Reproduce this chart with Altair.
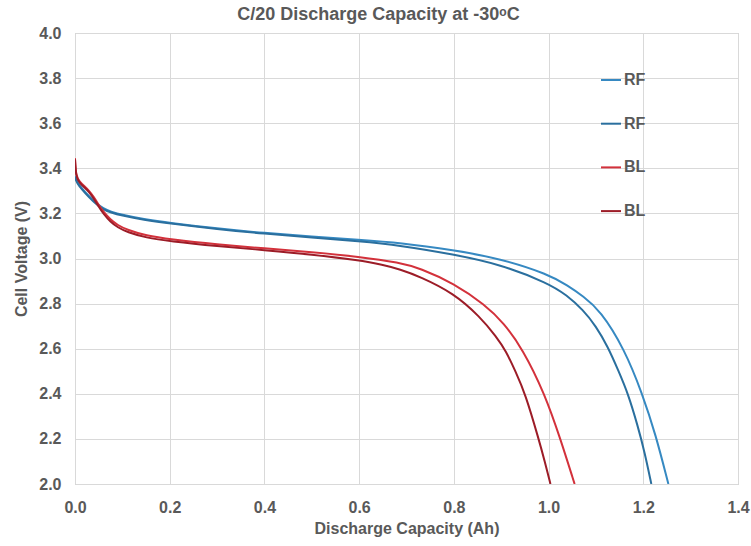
import altair as alt
import pandas as pd

# Series data (Discharge Capacity in Ah, Cell Voltage in V)
rf_a_cap = [0, 0.004, 0.015, 0.03, 0.045, 0.06, 0.075, 0.1, 0.144, 0.2, 0.3, 0.4, 0.5, 0.6, 0.686, 0.8, 0.897, 1.0, 1.04, 1.073, 1.109, 1.16, 1.198, 1.226, 1.253]
rf_a_v   = [3.365, 3.34, 3.31, 3.275, 3.245, 3.222, 3.208, 3.193, 3.175, 3.158, 3.133, 3.113, 3.097, 3.083, 3.07, 3.037, 3.0, 2.93, 2.88, 2.833, 2.77, 2.60, 2.40, 2.22, 2.0]

rf_b_cap = [0, 0.004, 0.015, 0.03, 0.045, 0.06, 0.075, 0.1, 0.144, 0.2, 0.3, 0.4, 0.5, 0.6, 0.686, 0.8, 0.897, 1.0, 1.038, 1.073, 1.1, 1.125, 1.148, 1.168, 1.188, 1.203, 1.217]
rf_b_v   = [3.36, 3.335, 3.305, 3.27, 3.24, 3.218, 3.204, 3.19, 3.172, 3.155, 3.13, 3.11, 3.093, 3.077, 3.058, 3.018, 2.975, 2.89, 2.838, 2.772, 2.70, 2.61, 2.5, 2.4, 2.26, 2.14, 2.0]

bl_a_cap = [0, 0.002, 0.01, 0.02, 0.03, 0.04, 0.05, 0.06, 0.075, 0.09, 0.11, 0.15, 0.2, 0.3, 0.4, 0.5, 0.6, 0.686, 0.728, 0.8, 0.866, 0.905, 0.945, 0.992, 1.025, 1.055]
bl_a_v   = [3.445, 3.365, 3.34, 3.32, 3.30, 3.272, 3.238, 3.207, 3.172, 3.148, 3.127, 3.101, 3.085, 3.062, 3.045, 3.028, 3.008, 2.982, 2.957, 2.89, 2.794, 2.715, 2.6, 2.4, 2.2, 2.0]

bl_b_cap = [0, 0.002, 0.01, 0.02, 0.03, 0.04, 0.05, 0.06, 0.075, 0.09, 0.11, 0.15, 0.2, 0.3, 0.4, 0.5, 0.6, 0.65, 0.686, 0.728, 0.8, 0.855, 0.89, 0.91, 0.93, 0.951, 0.979, 0.992, 1.004]
bl_b_v   = [3.44, 3.36, 3.335, 3.315, 3.295, 3.265, 3.23, 3.198, 3.162, 3.138, 3.117, 3.092, 3.077, 3.055, 3.037, 3.018, 2.992, 2.972, 2.952, 2.92, 2.846, 2.742, 2.653, 2.59, 2.5, 2.4, 2.2, 2.1, 2.0]

series_ids = ["RF_A", "RF_B", "BL_A", "BL_B"]
series_colors = ["#3689c2", "#2a6f9e", "#d3313b", "#9c1c27"]

frames = []
for sid, caps, vs in [("RF_A", rf_a_cap, rf_a_v), ("RF_B", rf_b_cap, rf_b_v),
                      ("BL_A", bl_a_cap, bl_a_v), ("BL_B", bl_b_cap, bl_b_v)]:
    frames.append(pd.DataFrame({"series": sid, "cap": caps, "volt": vs, "order": range(len(caps))}))
df = pd.concat(frames, ignore_index=True)

TXT = "#595959"
FONT = "Liberation Sans"

chart = alt.Chart(df).mark_line(strokeWidth=2, interpolate="basis", clip=True).encode(
    x=alt.X("cap:Q", scale=alt.Scale(domain=[0, 1.4], nice=False),
            axis=alt.Axis(title="Discharge Capacity (Ah)", values=[0, 0.2, 0.4, 0.6, 0.8, 1.0, 1.2, 1.4],
                          format=".1f", tickSize=0, labelPadding=15, titlePadding=5, labelFlush=False,
                          domain=False, grid=True, gridColor="#d9d9d9")),
    y=alt.Y("volt:Q", scale=alt.Scale(domain=[2.0, 4.0], nice=False),
            axis=alt.Axis(title="Cell Voltage (V)", values=[2.0, 2.2, 2.4, 2.6, 2.8, 3.0, 3.2, 3.4, 3.6, 3.8, 4.0],
                          format=".1f", tickSize=0, labelPadding=14, titlePadding=9, labelFlush=False,
                          domain=False, grid=True, gridColor="#d9d9d9")),
    color=alt.Color("series:N", scale=alt.Scale(domain=series_ids, range=series_colors),
                    legend=alt.Legend(title=None, orient="none", legendX=525, legendY=36,
                                      symbolType="stroke", symbolSize=400, symbolStrokeWidth=2,
                                      labelExpr="slice(datum.label, 0, 2)",
                                      labelFontSize=16, labelFont=FONT, labelFontWeight="bold",
                                      labelColor=TXT, rowPadding=24.7, labelOffset=2)),
    order="order:Q",
).properties(
    width=663, height=451,
    title=alt.Title("C/20 Discharge Capacity at -30ᵒC", fontSize=18, font=FONT, fontWeight="bold",
                    color=TXT, anchor="middle", offset=1, dx=-28),
    autosize=alt.AutoSizeParams(type="none"),
    padding={"left": 75, "top": 33, "right": 13, "bottom": 62},
).configure_view(
    stroke="#bfbfbf", strokeWidth=1
).configure_axis(
    labelFont=FONT, labelFontSize=16, labelFontWeight="bold", labelColor=TXT,
    titleFont=FONT, titleFontSize=16, titleFontWeight="bold", titleColor=TXT,
)

chart.save("out.html", embed_options={"renderer": "svg", "actions": False})
